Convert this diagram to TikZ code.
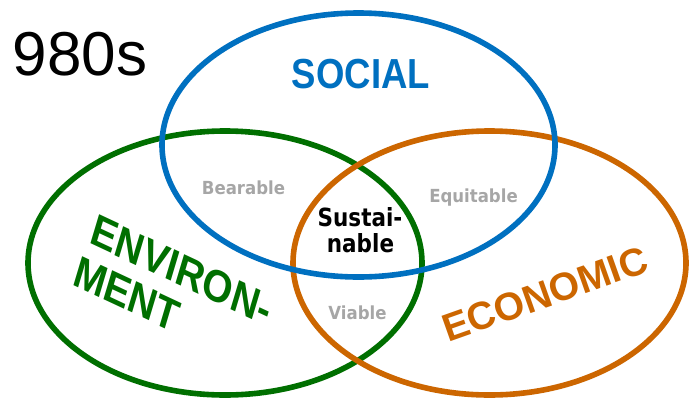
\documentclass[tikz,border=0pt]{standalone}
\usepackage{fontspec}
\usepackage{graphicx}
\setmainfont{Liberation Sans}
\newfontfamily\dvfont{DejaVu Sans}
\definecolor{socblue}{HTML}{0070C0}
\definecolor{envgreen}{HTML}{006F00}
\definecolor{ecoorange}{HTML}{CC6600}
\definecolor{lblgray}{HTML}{A6A6A6}
\begin{document}
\begin{tikzpicture}[x=1pt,y=-1pt,
  ring/.style={line width=5.6pt},
  txt/.style={inner sep=0pt, outer sep=0pt},
  bigword/.style={txt, font=\fontsize{#1}{#1}\selectfont\bfseries},
  graylbl/.style={txt, anchor=base, text=lblgray, font=\dvfont\fontsize{18}{18}\selectfont\bfseries},
  corelbl/.style={txt, anchor=base, text=black, font=\dvfont\fontsize{25}{25}\selectfont\bfseries}]
\useasboundingbox (0,0) rectangle (696,400);
\fill[white] (0,0) rectangle (696,400);
% circles
\draw[ring, envgreen] (225,263) ellipse [x radius=197pt, y radius=132pt];
\draw[ring, ecoorange] (489.5,263) ellipse [x radius=196.5pt, y radius=132pt];
\draw[ring, socblue] (358.5,145) ellipse [x radius=196.5pt, y radius=132pt];
% title
\node[txt, font=\fontsize{62}{62}\selectfont] (yr) at (80,54.5) {980s};
% social
\node[bigword=42, text=socblue] (soc) at (361,74) {\scalebox{0.87}[1]{SOCIAL}};
% environment
\begin{scope}[shift={(182,270)}, xscale=0.8, rotate=-20.5]
\node[bigword=45, text=envgreen, transform shape] (env1) at (0,0) {\scalebox{1.08}[1]{ENVIRON-}};
\end{scope}
\begin{scope}[shift={(127,294)}, xscale=0.8, rotate=-20.5]
\node[bigword=45, text=envgreen, transform shape] (env2) at (0,0) {\scalebox{1.08}[1]{MENT}};
\end{scope}
% economic
\node[bigword=39, text=ecoorange, rotate=19.5] (eco) at (545,294) {ECONOMIC};
% overlap labels
\node[graylbl] (bear) at (243.5,194) {\scalebox{0.92}[1]{Bearable}};
\node[graylbl] (equi) at (473.5,202.7) {\scalebox{0.92}[1]{Equitable}};
\node[graylbl] (via) at (357.5,319.3) {\scalebox{0.92}[1]{Viable}};
\node[corelbl] (sus1) at (360,226.7) {\scalebox{0.86}[1]{Sustai-}};
\node[corelbl] (sus2) at (360.5,252.7) {\scalebox{0.86}[1]{nable}};
\end{tikzpicture}
\end{document}
